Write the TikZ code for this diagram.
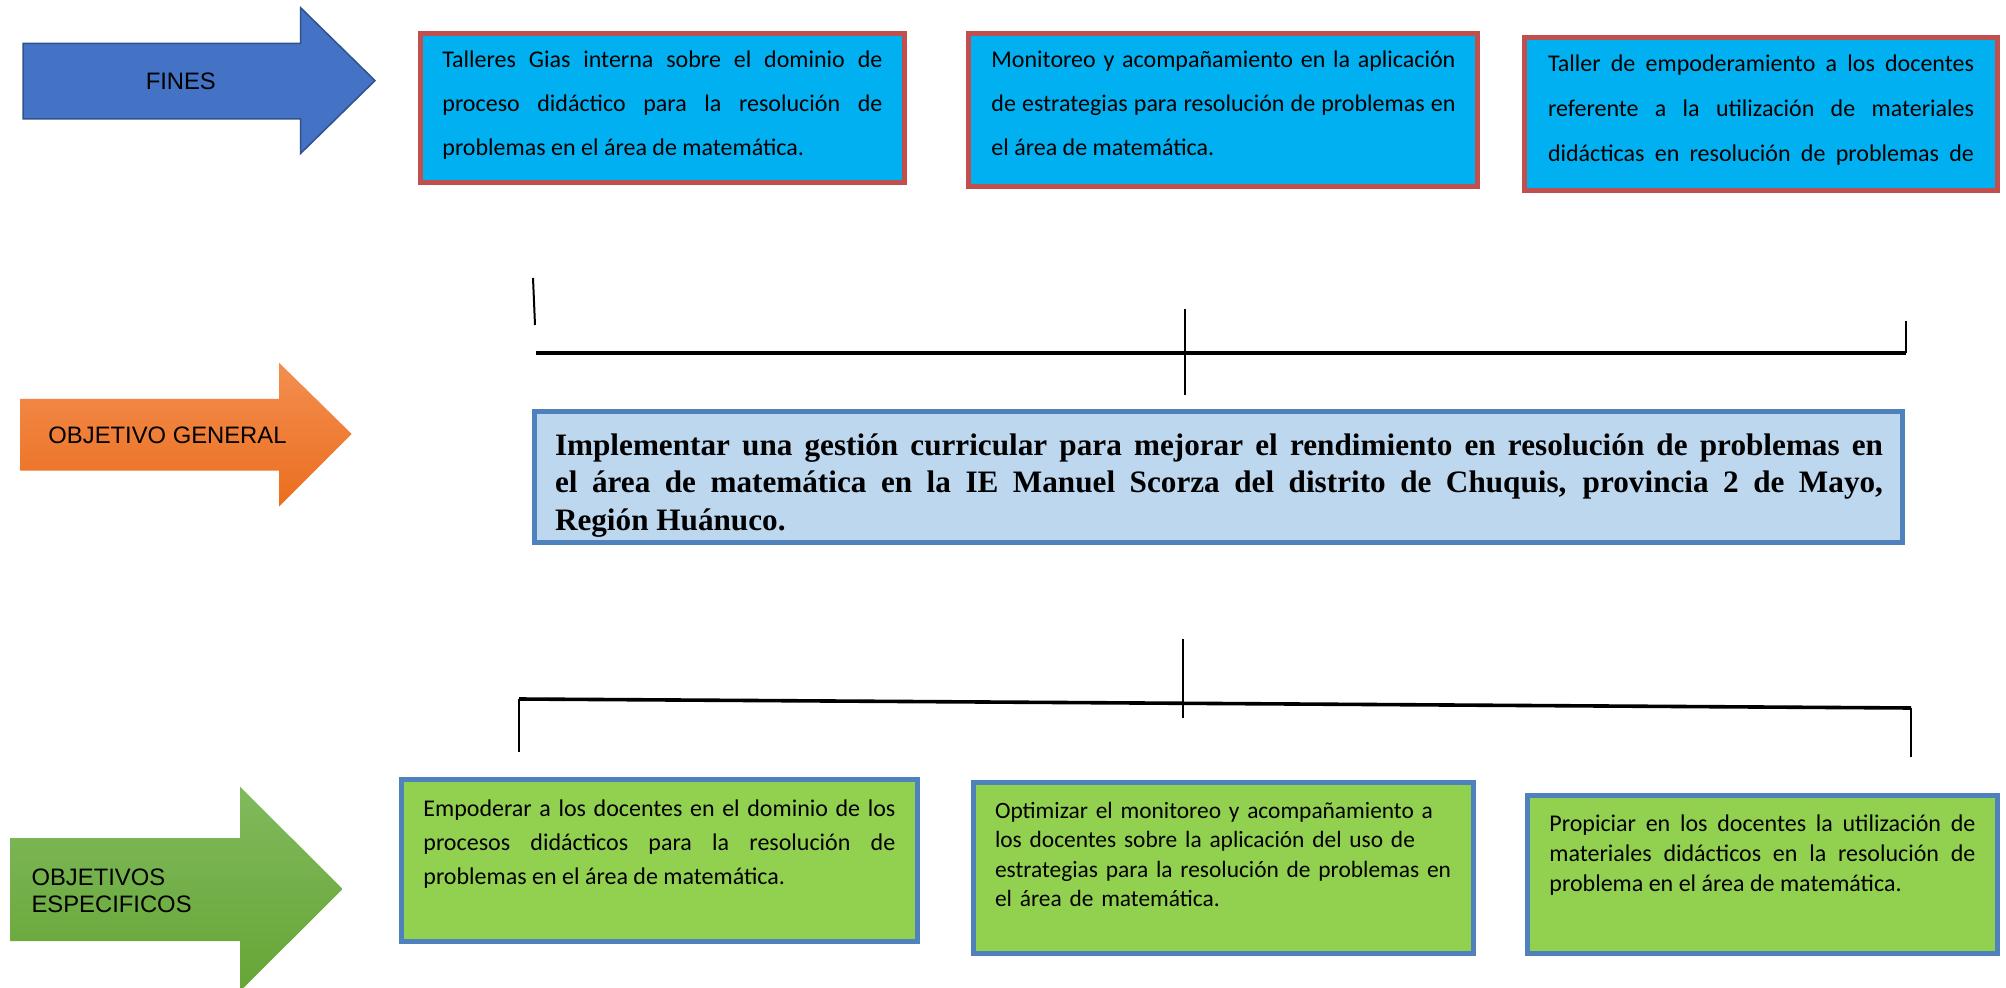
\documentclass[tikz,border=0pt]{standalone}
\usepackage{fontspec}
\setmainfont{Carlito}
\newfontfamily\arialfont{Liberation Sans}
\newfontfamily\timesfont{Liberation Serif}
\usepackage{tikz}
\usetikzlibrary{positioning}
\definecolor{fincyan}{HTML}{00B0F0}
\definecolor{finred}{HTML}{C0504D}
\definecolor{genfill}{HTML}{BDD7EE}
\definecolor{genline}{HTML}{4F81BD}
\definecolor{espgreen}{HTML}{92D050}
\definecolor{espline}{HTML}{4F81BD}
\definecolor{arrblue}{HTML}{4472C4}
\definecolor{arrblueline}{HTML}{2F528F}
\definecolor{orangetop}{HTML}{F38E50}
\definecolor{orangebot}{HTML}{EB6E1E}
\definecolor{greentop}{HTML}{80BA5C}
\definecolor{greenbot}{HTML}{66A536}
\tolerance=9999

\begin{document}
\begin{tikzpicture}[x=0.5pt,y=-0.5pt,
  finbox/.style={draw=finred,fill=fincyan,line width=2.5pt,anchor=north west,inner sep=0pt},
  genbox/.style={draw=genline,fill=genfill,line width=2.5pt,anchor=north west,inner sep=0pt},
  espbox/.style={draw=espline,fill=espgreen,line width=2.5pt,anchor=north west,inner sep=0pt},
  boxtext/.style={inner sep=0pt,align=justify,font=\fontsize{12}{22}\selectfont},
  arrowtext/.style={inner sep=0pt,font=\arialfont\fontsize{11.9}{13.65}\selectfont},
  bracket/.style={line width=1pt},
  beam/.style={line width=1.8pt}]
  \useasboundingbox[fill=white] (0,0) rectangle (2006,988);

  \filldraw[fill=arrblue,draw=arrblueline,line width=0.75pt] (23,43.5) -- (300.6,43.5) -- (300.6,7.7) -- (375,80.6) -- (300.6,153.5) -- (300.6,119) -- (23,119) -- cycle;
  \shade[top color=orangetop,bottom color=orangebot] (20,399) -- (279,399) -- (279,362.7) -- (351.7,434) -- (279,506.7) -- (279,470.7) -- (20,470.7) -- cycle;
  \begin{scope}
    \clip (0,0) rectangle (2006,988);
    \shade[top color=greentop,bottom color=greenbot] (10,838) -- (240,838) -- (240,786.7) -- (342.7,889) -- (240,991.3) -- (240,941) -- (10,941) -- cycle;
  \end{scope}
  \node[arrowtext] (fines) at (180.8,81) {FINES};
  \node[arrowtext] (general) at (167.5,435.3) {OBJETIVO GENERAL};
  \node[arrowtext,align=left,anchor=north west] (especificos) at (31.2,868) {OBJETIVOS\\ESPECIFICOS};

  \node[finbox,minimum width=242pt,minimum height=74.5pt] (fin1) at (418,31) {};
  \node[finbox,minimum width=254.5pt,minimum height=76.5pt] (fin2) at (966,31) {};
  \node[finbox,minimum width=236.5pt,minimum height=76.5pt] (fin3) at (1522,35) {};
  \node[boxtext,text width=220pt,below right=9.5pt and 12pt of fin1.north west] (fin1t)
    {Talleres Gias interna sobre el dominio de\linebreak proceso didáctico para la resolución de\linebreak problemas en el área de matemática.};
  \node[boxtext,text width=232pt,below right=9.5pt and 12.5pt of fin2.north west] (fin2t)
    {Monitoreo y acompañamiento en la aplicación\linebreak de estrategias para resolución de problemas en\linebreak el área de matemática.};
  \node[boxtext,text width=213pt,below right=9.6pt and 12.8pt of fin3.north west,font=\fontsize{12}{22.5}\selectfont] (fin3t)
    {Taller de empoderamiento a los docentes\linebreak referente a la utilización de materiales\linebreak didácticas\hfill en\hfill resolución\hfill de\hfill problemas\hfill de};

  \node[genbox,minimum width=684pt,minimum height=65.5pt] (general box) at (531.6,409) {};
  \node[inner sep=0pt,align=justify,text width=664pt,font=\timesfont\bfseries\fontsize{15.6}{18.75}\selectfont,below right=12pt and 11.5pt of general box.north west] (generalt)
    {Implementar una gestión curricular para mejorar el rendimiento en resolución de problemas en\linebreak el área de matemática en la IE Manuel Scorza del distrito de Chuquis, provincia 2 de Mayo,\linebreak Región Huánuco.};

  \node[espbox,minimum width=258pt,minimum height=81pt] (esp1) at (399,777) {};
  \node[espbox,minimum width=250pt,minimum height=85.5pt] (esp2) at (971,780) {};
  \node[espbox,minimum width=235pt,minimum height=79pt] (esp3) at (1525,793) {};
  \node[boxtext,text width=236pt,font=\fontsize{12}{17}\selectfont,below right=11pt and 12pt of esp1.north west] (esp1t)
    {Empoderar a los docentes en el dominio de los\linebreak procesos didácticos para la resolución de\linebreak problemas en el área de matemática.};
  \node[boxtext,text width=240pt,align=left,font=\fontsize{11.7}{14.65}\selectfont,below right=10.9pt and 11.8pt of esp2.north west] (esp2t)
    {Optimizar el monitoreo y acompañamiento a\\los docentes sobre la aplicación del uso de\\estrategias para la resolución de problemas en\\el área de matemática.};
  \node[boxtext,text width=213pt,font=\fontsize{12}{15}\selectfont,below right=10.7pt and 12pt of esp3.north west] (esp3t)
    {Propiciar en los docentes la utilización de\linebreak materiales didácticos en la resolución de\linebreak problema en el área de matemática.};

  \coordinate (ftop1) at (533,278);  \coordinate (fbot1) at (535,325);
  \coordinate (fbeam1) at (536,353); \coordinate (fbeam2) at (1906,353);
  \coordinate (fmid1) at (1185,309); \coordinate (fmid2) at (1185,395);
  \coordinate (fright) at (1906,321);
  \draw[bracket] (ftop1) -- (fbot1);
  \draw[beam] (fbeam1) -- (fbeam2);
  \draw[bracket] (fmid1) -- (fmid2);
  \draw[bracket] (fright) -- (fbeam2);

  \coordinate (ebeam1) at (519,699); \coordinate (ebeam2) at (1911,708);
  \coordinate (eleft) at (519,752);  \coordinate (eright) at (1911,757);
  \coordinate (emid1) at (1183,639); \coordinate (emid2) at (1183,718);
  \draw[beam] (ebeam1) -- (ebeam2);
  \draw[bracket] (ebeam1) -- (eleft);
  \draw[bracket] (emid1) -- (emid2);
  \draw[bracket] (ebeam2) -- (eright);
\end{tikzpicture}
\end{document}
